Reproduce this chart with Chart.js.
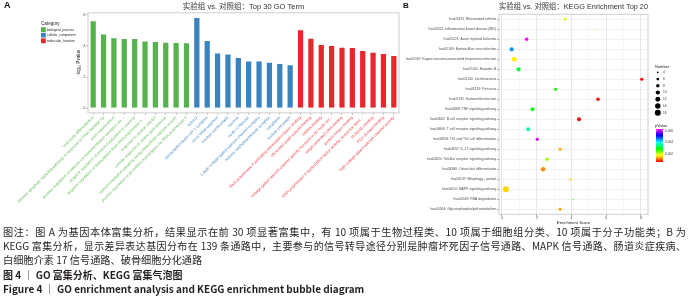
<!DOCTYPE html>
<html><head><meta charset="utf-8">
<script src="https://cdn.jsdelivr.net/npm/chart.js@4.4.1/dist/chart.umd.min.js"></script>
<style>
html,body{margin:0;padding:0;background:#fff;width:689px;height:300px;overflow:hidden;}
#wa{position:absolute;left:0;top:0;width:400px;height:226px;}
#wb{position:absolute;left:400px;top:0;width:289px;height:226px;}
.ln{position:absolute;left:3px;width:683px;font-family:"Noto Sans CJK SC","Noto Sans",sans-serif;font-size:10.2px;line-height:14px;color:#231f20;white-space:nowrap;}
.j{text-align:justify;text-align-last:justify;white-space:normal;height:14px;overflow:visible;}
.b{font-weight:bold;font-size:10px;}
</style></head><body>
<div id="wa"><canvas id="ca" width="400" height="226"></canvas></div>
<div id="wb"><canvas id="cb" width="289" height="226"></canvas></div>
<div class="ln j" style="top:225px">图注：图 A 为基因本体富集分析，结果显示在前 30 项显著富集中，有 10 项属于生物过程类、10 项属于细胞组分类、10 项属于分子功能类；B 为</div>
<div class="ln j" style="top:239px;font-size:10px">KEGG 富集分析，显示差异表达基因分布在 139 条通路中，主要参与的信号转导途径分别是肿瘤坏死因子信号通路、MAPK 信号通路、肠道炎症疾病、</div>
<div class="ln" style="top:253px">白细胞介素 17 信号通路、破骨细胞分化通路</div>
<div class="ln b" style="top:267.5px">图 4 ｜ GO 富集分析、KEGG 富集气泡图</div>
<div class="ln b" style="top:282px">Figure 4 ｜ GO enrichment analysis and KEGG enrichment bubble diagram</div>
<script>
// ---------- DATA ----------
const goTerms = [
 'leukocyte differentiation',
 'intrinsic apoptotic signaling pathway in response to DNA damage by',
 'axon regeneration',
 'positive regulation of calcium ion transmembrane transport via ...',
 'negative regulation of protein localization to nucleus',
 'negative regulation of transcription from RNA polymerase II ...',
 'response to muscle stretch',
 'cellular response to amino acid stimulus',
 'calcium-mediated signaling using intracellular calcium source',
 'positive regulation of pri-miRNA transcription by RNA polymerase II',
 'cytosol',
 'transcription factor AP-1 complex',
 'axon initial segment',
 'nuclear euchromatin',
 'nucleus',
 'node of Ranvier',
 'L-type voltage-gated calcium channel complex',
 'histone methyltransferase complex',
 'cytoplasm',
 'nuclear chromatin',
 'RNA polymerase II activating transcription factor binding',
 'ribosomal small subunit binding',
 'mRNA binding',
 'voltage-gated calcium channel activity involved in AV node cel...',
 'single-stranded DNA binding',
 'protein kinase binding',
 'RNA polymerase II transcription factor activity, sequence-spec...',
 'R-SMAD binding',
 'PDZ domain binding',
 'high voltage-gated calcium channel activity'
];
const goCategory = [
 'biological_process','biological_process','biological_process','biological_process','biological_process',
 'biological_process','biological_process','biological_process','biological_process','biological_process',
 'cellular_component','cellular_component','cellular_component','cellular_component','cellular_component',
 'cellular_component','cellular_component','cellular_component','cellular_component','cellular_component',
 'molecular_function','molecular_function','molecular_function','molecular_function','molecular_function',
 'molecular_function','molecular_function','molecular_function','molecular_function','molecular_function'
];
const goLogP = [5.62,4.78,4.53,4.49,4.49,4.33,4.29,4.25,4.23,4.21,
                5.83,4.36,3.56,3.50,3.27,3.05,3.05,2.97,2.88,2.80,
                5.04,4.51,4.10,4.04,3.93,3.91,3.72,3.61,3.52,3.40];
const categoryNames = ['biological_process','cellular_component','molecular_function'];
const goYTicks = [0,2,4,6];

const keggPathways = [
 'hsa05323: Rheumatoid arthritis',
 'hsa05321: Inflammatory bowel disease (IBD)',
 'hsa05221: Acute myeloid leukemia',
 'hsa05169: Epstein-Barr virus infection',
 'hsa05167: Kaposi sarcoma-associated herpesvirus infection',
 'hsa05161: Hepatitis B',
 'hsa05140: Leishmaniasis',
 'hsa05133: Pertussis',
 'hsa05132: Salmonella infection',
 'hsa04668: TNF signaling pathway',
 'hsa04662: B cell receptor signaling pathway',
 'hsa04660: T cell receptor signaling pathway',
 'hsa04658: Th1 and Th2 cell differentiation',
 'hsa04657: IL-17 signaling pathway',
 'hsa04620: Toll-like receptor signaling pathway',
 'hsa04380: Osteoclast differentiation',
 'hsa04137: Mitophagy - animal',
 'hsa04010: MAPK signaling pathway',
 'hsa03018: RNA degradation',
 'hsa00564: Glycerophospholipid metabolism'
];
const keggScore  = [3.64,5.36,1.42,0.56,0.71,0.96,8.05,3.09,5.53,1.76,4.44,1.51,2.03,3.35,2.60,2.37,3.95,0.23,4.10,3.35];
const keggCount  = [6,3,8,10,12,10,7,7,8,9,9,9,7,7,8,11,5,16,3,7];
const keggPValue = [0.00200,0.00171,0.00630,0.00448,0.00171,0.00314,0.00066,0.00286,0.00071,0.00295,
                    0.00067,0.00372,0.00601,0.00142,0.00219,0.00129,0.00161,0.00161,0.00276,0.00142];
const numberLegend = [4,6,8,10,12,14,16];
const pLegendTicks = [0.002,0.004,0.006];

// ---------- STYLE ----------
const PALETTE = {biological_process:'#56b24d', cellular_component:'#3a83bf', molecular_function:'#e8262c'};
const LABEL_PALETTE = {biological_process:'#6cbf63', cellular_component:'#4f8fc7', molecular_function:'#ec4a4f'};
const SANS = '"Liberation Sans", Arial, sans-serif';
const TITLE_FONT = '"Liberation Sans","Noto Sans CJK SC",sans-serif';
const P_MIN = Math.min(...keggPValue), P_MAX = Math.max(...keggPValue);
function pColor(p){ const t=(p-P_MIN)/(P_MAX-P_MIN); return 'hsl('+(t*300).toFixed(1)+',100%,50%)'; }
const nMin = Math.min(...keggCount), nMax = Math.max(...keggCount);
function rOf(n){ return 0.6 + 2.4*(Math.sqrt(n)-Math.sqrt(nMin))/(Math.sqrt(nMax)-Math.sqrt(nMin)); }

Chart.defaults.font.family = SANS;
Chart.defaults.color = '#4d4d4d';

const borderPlugin = {
  id:'panelBorder',
  afterDraw(chart, args, opts){
    const a = chart.chartArea, c = chart.ctx;
    c.save(); c.strokeStyle = opts.color; c.lineWidth = opts.width;
    c.strokeRect(a.left, a.top, a.right-a.left, a.bottom-a.top); c.restore();
  }
};
const tagPlugin = {
  id:'panelTag',
  afterDraw(chart, args, opts){
    const c = chart.ctx; c.save();
    c.font = 'bold '+opts.size+'px '+SANS; c.fillStyle='#111'; c.textBaseline='middle';
    c.fillText(opts.text, opts.x, opts.y); c.restore();
  }
};
const legendA = {
  id:'legendA',
  afterDraw(chart){
    const c = chart.ctx; c.save(); c.textBaseline='middle';
    c.fillStyle='#222'; c.font='4.6px '+SANS; c.fillText('Category', 41, 24);
    categoryNames.forEach((n,i)=>{
      const y = 27.2 + i*5.6;
      c.fillStyle = PALETTE[n]; c.fillRect(41, y, 4.8, 4.8);
      c.fillStyle = '#222'; c.font='3.3px '+SANS; c.fillText(n, 47, y+2.4);
    });
    c.restore();
  }
};
const legendB = {
  id:'legendB',
  afterDraw(chart){
    const c = chart.ctx; c.save(); c.textBaseline='middle';
    c.fillStyle='#222'; c.font='4px '+SANS; c.fillText('Number', 255, 66.5);
    numberLegend.forEach((n,i)=>{
      const y = 72.3 + i*6.73;
      c.fillStyle='#000'; c.beginPath(); c.arc(257.8, y, rOf(n), 0, Math.PI*2); c.fill();
      c.fillStyle='#333'; c.font='3.2px '+SANS; c.fillText(String(n), 263, y);
    });
    c.fillStyle='#222'; c.font='4px '+SANS; c.fillText('pValue', 255, 126);
    const top=129, bot=162, x0=256, w=7;
    const g = c.createLinearGradient(0, bot, 0, top);
    for (let k=0;k<=10;k++){ g.addColorStop(k/10, 'hsl('+(k*30)+',100%,50%)'); }
    c.fillStyle = g; c.fillRect(x0, top, w, bot-top);
    c.font='3.2px '+SANS; c.fillStyle='#333';
    pLegendTicks.forEach(p=>{
      const y = bot - (p-P_MIN)/(P_MAX-P_MIN)*(bot-top);
      c.strokeStyle='#fff'; c.lineWidth=0.5;
      c.beginPath(); c.moveTo(x0,y); c.lineTo(x0+1.5,y); c.moveTo(x0+w-1.5,y); c.lineTo(x0+w,y); c.stroke();
      c.fillText(p.toFixed(3), x0+w+2, y);
    });
    c.restore();
  }
};

// ---------- CHART A ----------
new Chart(document.getElementById('ca'), {
  type:'bar',
  data:{ labels: goTerms, datasets:[{
    data: goLogP,
    backgroundColor: goCategory.map(c=>PALETTE[c]),
    borderColor: 'rgba(255,255,255,0.55)', borderWidth: 0.8,
    barPercentage: 0.66, categoryPercentage: 1
  }]},
  options:{
    responsive:false, animation:false, devicePixelRatio:1,
    layout:{padding:{left:74, right:1, top:0, bottom:0}},
    plugins:{
      legend:{display:false}, tooltip:{enabled:false},
      title:{display:true, fullSize:false, text:'实验组 vs. 对照组：Top 30 GO Term', color:'#333',
             font:{size:7.5, family:TITLE_FONT, weight:'normal'}, padding:{top:2, bottom:1.7}},
      panelBorder:{color:'#dcdcdc', width:1.4},
      panelTag:{text:'A', x:4, y:6, size:9}
    },
    scales:{
      x:{ offset:true,
          grid:{display:true, drawOnChartArea:false, offset:false, tickLength:1.5, tickColor:'#888'},
          border:{display:false},
          ticks:{autoSkip:false, maxRotation:45, minRotation:45, padding:1,
                 font:{size:4}, color: ctx => LABEL_PALETTE[goCategory[ctx.index]]},
          afterFit: s => { s.height = 226 - 112.8; } },
      y:{ min:-0.29, max:6.12,
          afterBuildTicks: s => { s.ticks = goYTicks.map(v=>({value:v})); },
          grid:{display:true, drawOnChartArea:false, tickLength:1.5, tickColor:'#888'},
          border:{display:false},
          ticks:{font:{size:4}, padding:1, color:'#4d4d4d'},
          title:{display:true, text:'-log₁₀ Pvalue', font:{size:4.5}, color:'#222', padding:{top:2,bottom:0}},
          afterFit: s => { s.width = 14; } }
    }
  },
  plugins:[borderPlugin, tagPlugin, legendA]
});

// ---------- CHART B ----------
new Chart(document.getElementById('cb'), {
  type:'bubble',
  data:{ datasets:[{
    data: keggPathways.map((p,i)=>({x:keggScore[i], y:p, r:rOf(keggCount[i])})),
    backgroundColor: ctx => pColor(keggPValue[ctx.dataIndex]),
    borderWidth:0, hoverRadius:0
  }]},
  options:{
    responsive:false, animation:false, devicePixelRatio:1,
    layout:{padding:{left:0, right:41, top:0, bottom:0}},
    plugins:{
      legend:{display:false}, tooltip:{enabled:false},
      title:{display:true, fullSize:false, text:'实验组 vs. 对照组：KEGG Enrichment Top 20', color:'#333',
             font:{size:7.5, family:TITLE_FONT, weight:'normal'}, padding:{top:2.6, bottom:2.7}},
      panelBorder:{color:'#cfcfcf', width:1},
      panelTag:{text:'B', x:3, y:6, size:8}
    },
    scales:{
      x:{ type:'linear', min:-0.17, max:8.41,
          grid:{ color: ctx => (ctx.tick && ctx.tick.value%2===0) ? '#e6e6e6' : '#f3f3f3',
                 lineWidth: ctx => (ctx.tick && ctx.tick.value%2===0) ? 0.9 : 0.6,
                 tickLength:1.5,
                 tickColor: ctx => (ctx.tick && ctx.tick.value%2===0) ? '#888' : 'rgba(0,0,0,0)' },
          border:{display:false},
          ticks:{ stepSize:1, includeBounds:false, padding:0.5, font:{size:3.6}, color:'#4d4d4d',
                  callback: v => (v%2===0 ? String(v) : '') },
          title:{display:true, text:'Enrichment Score', font:{size:4.2}, color:'#222', padding:{top:0,bottom:1}},
          afterFit: s => { s.height = 226 - 214.3; } },
      y:{ type:'category', labels: keggPathways, offset:true,
          grid:{ color:'#ececec', lineWidth:0.8, offset:false, tickLength:2, tickColor:'#888' },
          border:{display:false},
          ticks:{ autoSkip:false, font:{size:3.4}, padding:0.8, color:'#4d4d4d' },
          afterFit: s => { s.width = 99; } }
    }
  },
  plugins:[borderPlugin, tagPlugin, legendB]
});
</script>
</body></html>
